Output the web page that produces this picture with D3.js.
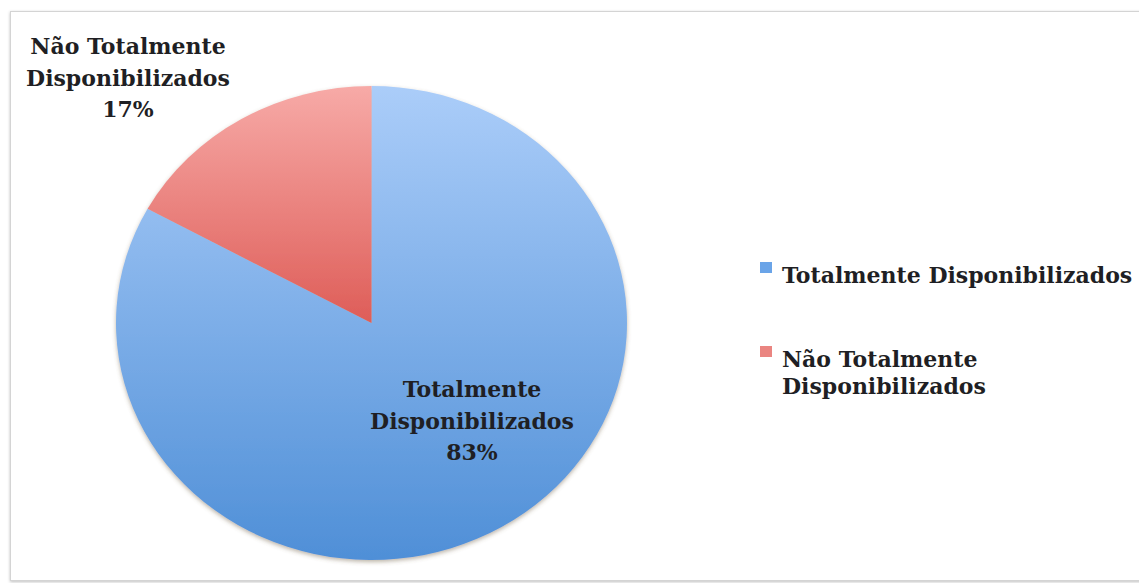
<!DOCTYPE html>
<html>
<head>
<meta charset="utf-8">
<script src="https://cdn.jsdelivr.net/npm/d3@7"></script>
<style>
  html, body { margin: 0; padding: 0; background: #ffffff; }
  svg { display: block; }
  text { font-family: "DejaVu Serif", "Liberation Serif", serif; font-weight: bold; fill: #1f1f24; }
</style>
</head>
<body>
<svg id="chart" width="1139" height="583"></svg>
<script>
// Data
const categories = ["Totalmente Disponibilizados", "Não Totalmente Disponibilizados"];
const values = [83, 17];
const sliceLabels = [["Totalmente", "Disponibilizados"], ["Não Totalmente", "Disponibilizados"]];
const legendLines = [["Totalmente Disponibilizados"], ["Não Totalmente", "Disponibilizados"]];
const gradientStops = [["#abcdf9", "#4f8fd7"], ["#f7aaa7", "#de5d58"]];
const swatchColors = ["#6aa4e8", "#ea8581"];

const svg = d3.select("#chart");
const W = 1139, H = 583;

const defs = svg.append("defs");

// soft shadow used by the frame and the pie
const frameShadow = defs.append("filter").attr("id", "frameShadow")
  .attr("x", "-5%").attr("y", "-5%").attr("width", "110%").attr("height", "110%");
frameShadow.append("feDropShadow").attr("dx", 0).attr("dy", 1).attr("stdDeviation", 1.5)
  .attr("flood-color", "#000").attr("flood-opacity", 0.25);

const pieShadow = defs.append("filter").attr("id", "pieShadow")
  .attr("x", "-10%").attr("y", "-10%").attr("width", "120%").attr("height", "120%");
pieShadow.append("feDropShadow").attr("dx", 0).attr("dy", 2).attr("stdDeviation", 2)
  .attr("flood-color", "#6b5a40").attr("flood-opacity", 0.45);

gradientStops.forEach((c, i) => {
  const g = defs.append("linearGradient").attr("id", "grad" + i)
    .attr("x1", 0).attr("y1", 0).attr("x2", 0).attr("y2", 1);
  g.append("stop").attr("offset", "0%").attr("stop-color", c[0]);
  g.append("stop").attr("offset", "100%").attr("stop-color", c[1]);
});

// frame
svg.append("rect")
  .attr("x", 10.5).attr("y", 11.5).attr("width", W + 20).attr("height", 569)
  .attr("fill", "#fff").attr("stroke", "#d4d4d4").attr("stroke-width", 1)
  .attr("filter", "url(#frameShadow)");

// pie (drawn as a circle, stretched horizontally), clockwise from 12 o'clock
const cx = 371.5, cy = 323, rx = 255.5, ry = 237;
const pie = d3.pie().sort(null).startAngle(0).endAngle(2 * Math.PI)(values);
const arc = d3.arc().innerRadius(0).outerRadius(ry);

const pieG = svg.append("g")
  .attr("transform", `translate(${cx},${cy})`)
  .attr("filter", "url(#pieShadow)");
const inner = pieG.append("g").attr("transform", `scale(${rx / ry},1)`);

inner.selectAll("path").data(pie).join("path")
  .attr("d", arc)
  .attr("fill", (d, i) => `url(#grad${i})`);

// data labels
const labelPos = [[472, 397], [128, 54]];
const lineH = 31.5;
pie.forEach((d, i) => {
  const pct = Math.round(d.value / d3.sum(values) * 100) + "%";
  const lines = sliceLabels[i].concat([pct]);
  const t = svg.append("text")
    .attr("text-anchor", "middle")
    .attr("font-size", 22);
  lines.forEach((s, k) => {
    t.append("tspan").attr("x", labelPos[i][0]).attr("y", labelPos[i][1] + k * lineH).text(s);
  });
});

// legend
const legendX = 760, legendTop = [262, 346], legendLineH = 26.5;
categories.forEach((c, i) => {
  svg.append("rect")
    .attr("x", legendX).attr("y", legendTop[i]).attr("width", 12).attr("height", 11)
    .attr("fill", swatchColors[i]);
  const t = svg.append("text").attr("font-size", 22);
  legendLines[i].forEach((s, k) => {
    t.append("tspan").attr("x", legendX + 22).attr("y", legendTop[i] + 21 + k * legendLineH).text(s);
  });
});
</script>
</body>
</html>
